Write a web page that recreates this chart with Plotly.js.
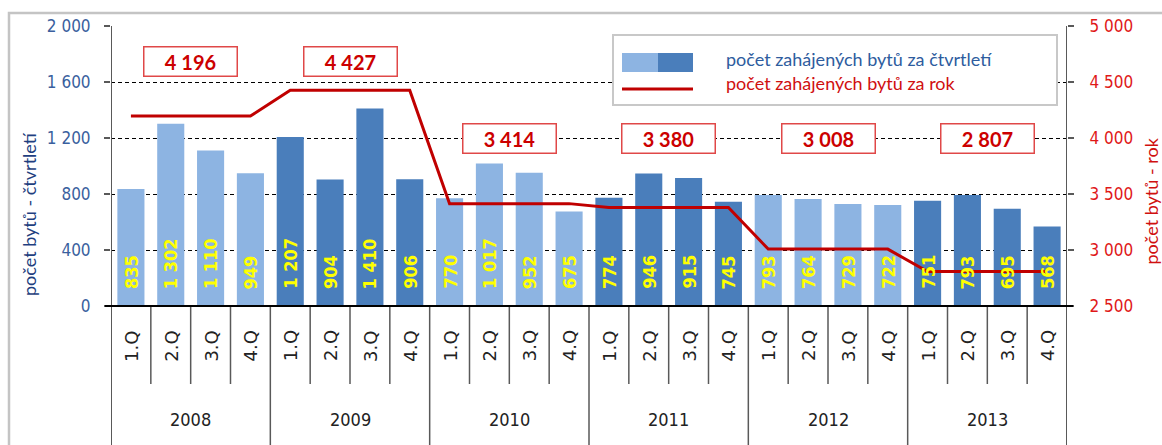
<!DOCTYPE html>
<html>
<head>
<meta charset="utf-8">
<script src="https://cdn.plot.ly/plotly-3.0.1.min.js"></script>
<style>html,body{margin:0;padding:0;background:#fff;}#chart{width:1162px;height:445px;}</style>
</head>
<body>
<div id="chart"></div>
<script>
// ---- data ----
const years = ['2008', '2009', '2010', '2011', '2012', '2013'];
const quarters = ['1.Q', '2.Q', '3.Q', '4.Q'];
const quarterly = [835, 1302, 1110, 949, 1207, 904, 1410, 906, 770, 1017, 952, 675,
                   774, 946, 915, 745, 793, 764, 729, 722, 751, 793, 695, 568];
const annual = [4196, 4427, 3414, 3380, 3008, 2807];
const leftTicks = [0, 400, 800, 1200, 1600, 2000];
const rightTicks = [2500, 3000, 3500, 4000, 4500, 5000];
const seriesNames = ['počet zahájených bytů za čtvrtletí', 'počet zahájených bytů za rok'];
const yTitleLeft = 'počet bytů - čtvrtletí';
const yTitleRight = 'počet bytů - rok';

// ---- styles ----
const LIGHT = '#8db4e2', DARK = '#4a7ebb', RED = '#c00000';
const TICKFONT = 'DejaVu Sans Condensed, DejaVu Sans, sans-serif';
const QFONT = 'DejaVu Sans, sans-serif';
const LEGFONT = 'Lato, Open Sans, sans-serif';
const boxY = [1750, 1750, 1195, 1195, 1195, 1195]; // vertical placement of annual boxes

const fmt = v => String(v).replace(/\B(?=(\d{3})+(?!\d))/g, ' ');

const n = quarterly.length;
const xIdx = quarterly.map((_, i) => i);
const barColors = xIdx.map(i => (Math.floor(i / 4) % 2 === 0 ? LIGHT : DARK));
const lineVals = xIdx.map(i => annual[Math.floor(i / 4)]);

const bars = {
  type: 'bar', x: xIdx, y: quarterly, marker: {color: barColors},
  name: seriesNames[0], hoverinfo: 'y', showlegend: false
};
const line = {
  type: 'scatter', mode: 'lines', x: xIdx, y: lineVals, yaxis: 'y2',
  line: {color: RED, width: 3}, name: seriesNames[1], showlegend: false
};

// paper-coordinate helpers (plot area: x 111..1067, y 26..306)
const L = 111, R = 1067, T = 26, B = 306;
const px = v => (v - L) / (R - L);
const py = v => (B - v) / (B - T);

const annotations = [];
const shapes = [];

// bar value labels
quarterly.forEach((v, i) => annotations.push({
  x: i, y: 0, xref: 'x', yref: 'y', text: fmt(v), showarrow: false,
  textangle: -90, yanchor: 'bottom', xanchor: 'center', yshift: 15,
  font: {family: TICKFONT, size: 18, color: '#ffff00', weight: 'bold'}
}));

// annual boxes
annual.forEach((v, k) => annotations.push({
  x: k * 4 + 1.5, y: boxY[k], xref: 'x', yref: 'y', text: '<b>' + fmt(v) + '</b>',
  showarrow: false, bgcolor: '#ffffff', bordercolor: '#e04848', borderwidth: 1.5,
  borderpad: 0, width: 92, height: 28, xanchor: 'center', yanchor: 'middle',
  font: {family: LEGFONT, size: 20, color: '#cc0000'}
}));

// quarter labels & separators
xIdx.forEach(i => {
  annotations.push({
    x: i, y: py(346), xref: 'x', yref: 'paper', text: quarters[i % 4], showarrow: false,
    textangle: -90, xanchor: 'center', yanchor: 'middle',
    font: {family: QFONT, size: 18, color: '#222'}
  });
  if (i > 0) {
    const yearB = i % 4 === 0;
    shapes.push({type: 'line', xref: 'x', yref: 'paper', x0: i - 0.5, x1: i - 0.5,
      y0: 0, y1: yearB ? -0.6 : py(384), line: {color: '#595959', width: 1.5}});
  }
});
// year labels
years.forEach((y, k) => annotations.push({
  x: k * 4 + 1.5, y: py(420), xref: 'x', yref: 'paper', text: y, showarrow: false,
  xanchor: 'center', yanchor: 'middle',
  font: {family: TICKFONT, size: 18, color: '#222'}
}));

// axis lines
shapes.push({type: 'line', xref: 'x', yref: 'paper', x0: -0.5, x1: -0.5, y0: 1, y1: -0.6,
  line: {color: '#595959', width: 2}});
shapes.push({type: 'line', xref: 'x', yref: 'paper', x0: n - 0.5, x1: n - 0.5, y0: 1, y1: -0.6,
  line: {color: '#595959', width: 2}});
shapes.push({type: 'line', xref: 'paper', yref: 'paper', x0: px(L - 6), x1: px(R + 6), y0: 0, y1: 0,
  line: {color: '#000', width: 2}});

// outer border
shapes.push({type: 'path', xref: 'paper', yref: 'paper',
  path: `M ${px(9)} ${py(460)} L ${px(9)} ${py(13)} L ${px(1170)} ${py(13)}`,
  line: {color: '#c4c4c4', width: 2.5}});

// legend
shapes.push({type: 'rect', xref: 'paper', yref: 'paper', layer: 'above',
  x0: px(613), x1: px(1057), y0: py(105), y1: py(35), fillcolor: '#fff',
  line: {color: '#c8c8c8', width: 2}});
shapes.push({type: 'rect', xref: 'paper', yref: 'paper', layer: 'above',
  x0: px(622), x1: px(658), y0: py(72), y1: py(53), fillcolor: LIGHT, line: {width: 0}});
shapes.push({type: 'rect', xref: 'paper', yref: 'paper', layer: 'above',
  x0: px(658), x1: px(693), y0: py(72), y1: py(53), fillcolor: DARK, line: {width: 0}});
shapes.push({type: 'line', xref: 'paper', yref: 'paper', layer: 'above',
  x0: px(622), x1: px(693), y0: py(89), y1: py(89), line: {color: RED, width: 3}});
annotations.push({x: px(724), y: py(59), xref: 'paper', yref: 'paper', xanchor: 'left', yanchor: 'middle',
  text: seriesNames[0], showarrow: false, font: {family: LEGFONT, size: 18, color: '#2e5c9e'}});
annotations.push({x: px(724), y: py(83), xref: 'paper', yref: 'paper', xanchor: 'left', yanchor: 'middle',
  text: seriesNames[1], showarrow: false, font: {family: LEGFONT, size: 18, color: '#d01010'}});

// axis titles
annotations.push({x: px(29), y: py(298), xref: 'paper', yref: 'paper', xanchor: 'center', yanchor: 'bottom',
  text: yTitleLeft, textangle: -90, showarrow: false,
  font: {family: LEGFONT, size: 18, color: '#1f3f80'}});
annotations.push({x: px(1150), y: py(267), xref: 'paper', yref: 'paper', xanchor: 'center', yanchor: 'bottom',
  text: yTitleRight, textangle: -90, showarrow: false,
  font: {family: LEGFONT, size: 18, color: '#d01010'}});

const layout = {
  width: 1162, height: 445,
  margin: {l: L, r: 1162 - R, t: T, b: 445 - B},
  paper_bgcolor: '#fff', plot_bgcolor: '#fff',
  separators: ', ',
  bargap: 0.32,
  showlegend: false,
  xaxis: {range: [-0.5, n - 0.5], showticklabels: false, showgrid: false, zeroline: false,
    ticks: '', fixedrange: true},
  yaxis: {range: [0, 2000], tickvals: leftTicks, tickformat: ',d', showgrid: true,
    gridcolor: '#000', griddash: '4px,3px', gridwidth: 1, zeroline: false,
    ticks: 'outside', ticklen: 6, tickcolor: '#595959', tickwidth: 1.5,
    ticklabelstandoff: 10,
    tickfont: {family: TICKFONT, size: 17, color: '#3a5f9e'}},
  yaxis2: {range: [2500, 5000], tickvals: rightTicks, tickformat: ',d', overlaying: 'y',
    side: 'right', showgrid: false, zeroline: false,
    ticks: 'outside', ticklen: 6, tickcolor: '#595959', tickwidth: 1.5,
    ticklabelstandoff: 12,
    tickfont: {family: TICKFONT, size: 17, color: '#e01818'}},
  shapes: shapes,
  annotations: annotations
};

Plotly.newPlot('chart', [bars, line], layout, {displayModeBar: false, staticPlot: true});
</script>
</body>
</html>
